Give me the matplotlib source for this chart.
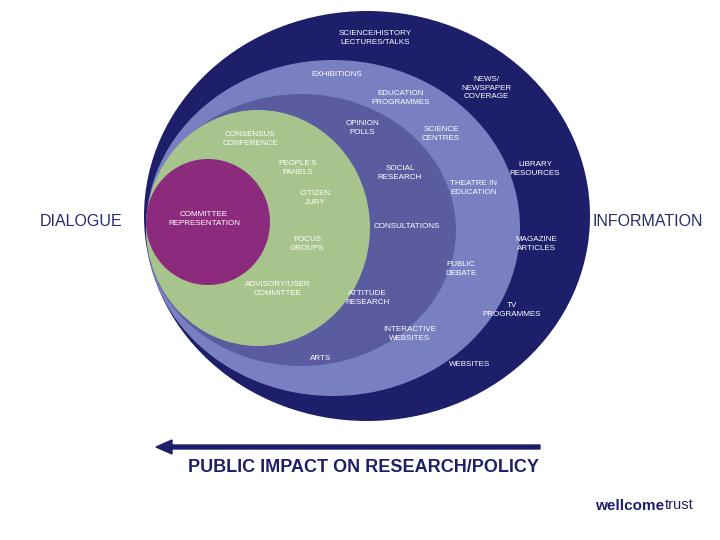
import matplotlib.pyplot as plt
from matplotlib.patches import Ellipse, FancyArrow

plt.rcParams['font.family'] = ['Liberation Sans', 'DejaVu Sans']

# nested rings: (centre x, centre y, width, height, colour)
rings = [
    (367, 216, 446, 410, "#1e1f6b"),
    (333, 228, 374, 336, "#7880c2"),
    (301, 230, 310, 272, "#5b5c9f"),
    (258, 228, 224, 236, "#a8c48d"),
    (208, 222, 124, 126, "#8c2b7d"),
]

labels = [
    ("SCIENCE/HISTORY\nLECTURES/TALKS", 375, 38),
    ("EXHIBITIONS", 337, 74),
    ("EDUCATION\nPROGRAMMES", 401, 98),
    ("NEWS/\nNEWSPAPER\nCOVERAGE", 486, 88),
    ("OPINION\nPOLLS", 362, 128),
    ("SCIENCE\nCENTRES", 441, 134),
    ("CONSENSUS\nCONFERENCE", 250, 139),
    ("PEOPLE'S\nPANELS", 298, 168),
    ("SOCIAL\nRESEARCH", 400, 173),
    ("LIBRARY\nRESOURCES", 535, 169),
    ("THEATRE IN\nEDUCATION", 474, 188),
    ("CITIZEN\nJURY", 315, 198),
    ("COMMITTEE\nREPRESENTATION", 204, 219),
    ("CONSULTATIONS", 407, 227),
    ("FOCUS\nGROUPS", 307, 244),
    ("MAGAZINE\nARTICLES", 536, 244),
    ("PUBLIC\nDEBATE", 461, 269),
    ("ADVISORY/USER\nCOMMITTEE", 278, 289),
    ("ATTITUDE\nRESEARCH", 367, 298),
    ("TV\nPROGRAMMES", 512, 310),
    ("INTERACTIVE\nWEBSITES", 410, 334),
    ("ARTS", 321, 359),
    ("WEBSITES", 470, 364),
]

fig = plt.figure(figsize=(7.2, 5.4), dpi=100)
ax = fig.add_axes([0, 0, 1, 1])
ax.set_xlim(0, 720)
ax.set_ylim(540, 0)
ax.axis("off")

for cx, cy, w, h, c in rings:
    ax.add_patch(Ellipse((cx, cy), w, h, facecolor=c, edgecolor="none"))

for txt, x, y in labels:
    ax.text(x, y, txt, color="white", fontsize=5.8, ha="center", va="center",
            linespacing=1.35)

ax.text(81, 222, "DIALOGUE", fontsize=11.5, color="#2a2a6e", ha="center", va="center")
ax.text(648, 222, "INFORMATION", fontsize=11.5, color="#2a2a6e", ha="center", va="center")

ax.add_patch(FancyArrow(540, 447, -384, 0, width=4, head_width=14, head_length=16,
                        length_includes_head=True, color="#1e1f6b"))
ax.text(363, 468, "PUBLIC IMPACT ON RESEARCH/POLICY", fontsize=13, fontweight="bold",
        color="#1e1f6b", ha="center", va="center")

ax.text(664, 506, "wellcome", fontsize=11, fontweight="bold", color="#1e1f6b",
        ha="right", va="center")
ax.text(665, 505, "trust", fontsize=10.5, color="#1e1f6b", ha="left", va="center")

fig.savefig("out.png", dpi=100)
